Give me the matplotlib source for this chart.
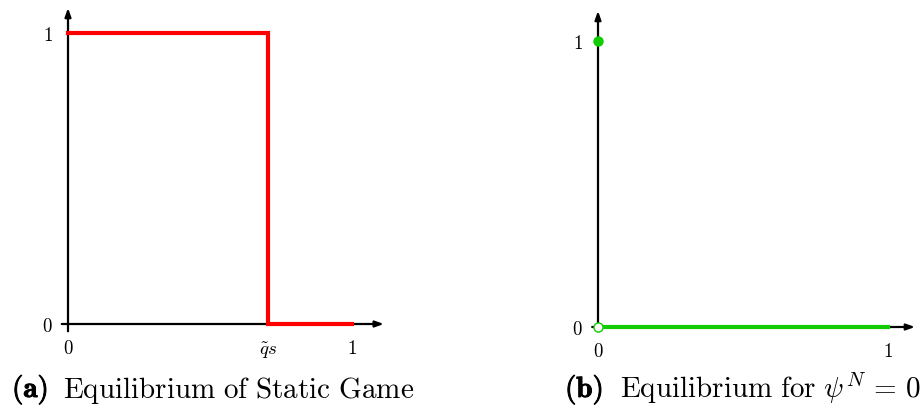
import matplotlib
matplotlib.use('Agg')
from matplotlib import pyplot as plt
from matplotlib import patheffects as pe

plt.rcParams['mathtext.fontset'] = 'cm'
plt.rcParams['font.family'] = 'DejaVu Serif'

# panel (a): static game, step down at q_s
q_s = 0.704
static_x = [0., q_s, q_s, 1.]
static_y = [1., 1., 0., 0.]
static_ticks = [0., q_s, 1.]
static_ticklabels = ['$0$', r'$\tilde{q}s$', '$1$']

# panel (b): psi^N = 0
psi_x = [0., 1.]
psi_y = [0., 0.]
psi_dot = (0., 1.)
psi_hole = (0., 0.)
psi_ticks = [0., 1.]
psi_ticklabels = ['$0$', '$1$']

W, H = 922, 410
fig = plt.figure(figsize=(W / 100., H / 100.), dpi=100)

red = '#ff0000'
green = '#11cc00'
tick_fs = 13.5
cap_fs = 21


def make_axes(ox, oy, ux, uy, xlim=(-0.15, 1.2), ylim=(-0.12, 1.12)):
    # ox, oy: pixel position of the origin, ux, uy: pixels per data unit
    left = ox + xlim[0] * ux
    bottom = (H - oy) + ylim[0] * uy
    ax = fig.add_axes([left / W, bottom / H,
                       (xlim[1] - xlim[0]) * ux / W,
                       (ylim[1] - ylim[0]) * uy / H])
    ax.set_xlim(*xlim)
    ax.set_ylim(*ylim)
    for s in ax.spines.values():
        s.set_visible(False)
    # tick labels sit along the zero lines
    ax.spines['bottom'].set_position(('data', 0))
    ax.spines['left'].set_position(('data', 0))
    ax.patch.set_alpha(0)
    return ax


def draw_axis_arrows(ax, x0, x1, y0, y1):
    arr = dict(arrowstyle='-|>,head_length=0.5,head_width=0.18', color='k', lw=1.6,
               shrinkA=0, shrinkB=0)
    ax.annotate('', xy=(x1, 0), xytext=(x0, 0), arrowprops=arr, zorder=1)
    ax.annotate('', xy=(0, y1), xytext=(0, y0), arrowprops=arr, zorder=1)


# ---- (a)
ax1 = make_axes(68, 325, 284, 291)
draw_axis_arrows(ax1, -0.022, 1.112, -0.025, 1.086)
ax1.plot(static_x, static_y, color=red, lw=3, solid_joinstyle='miter', zorder=3)
ax1.set_xticks(static_ticks, static_ticklabels, fontsize=tick_fs)
ax1.set_yticks([0, 1], ['$0$', '$1$'], fontsize=tick_fs)
ax1.tick_params(axis='x', length=0, pad=11)
ax1.tick_params(axis='y', length=0, pad=11)

# ---- (b)
ax2 = make_axes(598, 328, 290, 286)
draw_axis_arrows(ax2, -0.02, 1.093, -0.015, 1.105)
ax2.plot(psi_x, psi_y, color=green, lw=3, zorder=3)
ax2.plot(*psi_dot, 'o', color=green, ms=6.5, zorder=4)
ax2.plot(*psi_hole, 'o', mfc='white', mec=green, mew=1.0, ms=6.5, zorder=5)
ax2.set_xticks(psi_ticks, psi_ticklabels, fontsize=tick_fs)
ax2.set_yticks([0, 1], ['$0$', '$1$'], fontsize=tick_fs)
ax2.tick_params(axis='x', length=0, pad=11)
ax2.tick_params(axis='y', length=0, pad=11)

# captions: bold label + roman text
bold = [pe.withStroke(linewidth=0.7, foreground='k')]
base = 1 - 398 / H
fig.text(12 / W, base, r'$\mathbf{(a)}$', fontsize=cap_fs, ha='left', va='baseline',
         path_effects=bold)
fig.text(63 / W, base, r'$\mathrm{Equilibrium\ of\ Static\ Game}$',
         fontsize=cap_fs, ha='left', va='baseline')
fig.text(565 / W, base, r'$\mathbf{(b)}$', fontsize=cap_fs, ha='left', va='baseline',
         path_effects=bold)
fig.text(620 / W, base, r'$\mathrm{Equilibrium\ for}\ \psi^N\,=\,0$',
         fontsize=cap_fs, ha='left', va='baseline')

fig.savefig('out.png', dpi=100)
